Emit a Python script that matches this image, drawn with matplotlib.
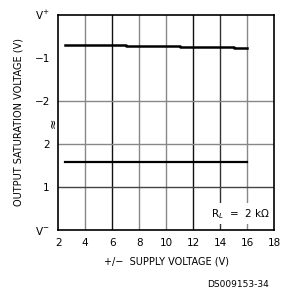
import matplotlib
matplotlib.use("Agg")
import matplotlib.pyplot as plt

# Data
supply_v = [2.5, 4, 6, 8, 10, 12, 14, 16]
upper_sat = [4.30, 4.30, 4.29, 4.28, 4.27, 4.26, 4.25, 4.23]
lower_sat = [1.59, 1.59, 1.59, 1.59, 1.59, 1.59, 1.59, 1.59]
x_ticks = [2, 4, 6, 8, 10, 12, 14, 16, 18]
y_pos = [0, 1, 2, 3, 4, 5]
y_labels = ["V$^{-}$", "1", "2", "\u22122", "\u22121", "V$^{+}$"]

plt.rcParams['font.family'] = ['DejaVu Sans']
fig = plt.figure(figsize=(2.82, 2.93), dpi=100)
ax = fig.add_axes([0.206, 0.215, 0.766, 0.734])
ax.set_xlim(2, 18)
ax.set_ylim(0, 5)

grid_colors = {4: '#888888', 6: '#111111', 8: '#888888', 10: '#888888',
               12: '#111111', 14: '#333333', 16: '#888888'}
for xv, c in grid_colors.items():
    ax.axvline(xv, color=c, lw=1.0, zorder=1)
for yv, c in [(3, '#888888'), (2, '#888888'), (1, '#444444')]:
    ax.axhline(yv, color=c, lw=1.0, zorder=1)

ax.plot(supply_v, upper_sat, color='black', lw=1.8, drawstyle='steps-mid', zorder=3)
ax.plot(supply_v, lower_sat, color='black', lw=1.6, zorder=3)

ax.set_xticks(x_ticks)
ax.set_xticklabels([str(t) for t in x_ticks], fontsize=7.5)
ax.set_yticks(y_pos)
ax.set_yticklabels(y_labels, fontsize=7.5)
ax.tick_params(length=0, pad=6)
for s in ax.spines.values():
    s.set_linewidth(1.2)
    s.set_color('black')

ax.text(17.7, 0.38, "R$_{L}$  =  2 k\u03a9", fontsize=7.5, ha='right', va='center',
        bbox=dict(facecolor='white', edgecolor='none', pad=2.5), zorder=4)
ax.text(1.65, 2.5, "\u2248", fontsize=9, rotation=90, ha='center', va='center',
        transform=ax.transData, clip_on=False)

ax.set_xlabel("+/\u2212  SUPPLY VOLTAGE (V)", fontsize=7, labelpad=6)
ax.set_ylabel("OUTPUT SATURATION VOLTAGE (V)", fontsize=7, labelpad=8)
fig.text(0.955, 0.028, "DS009153-34", fontsize=6.5, ha='right', va='center')

fig.savefig("out.png", dpi=100)
